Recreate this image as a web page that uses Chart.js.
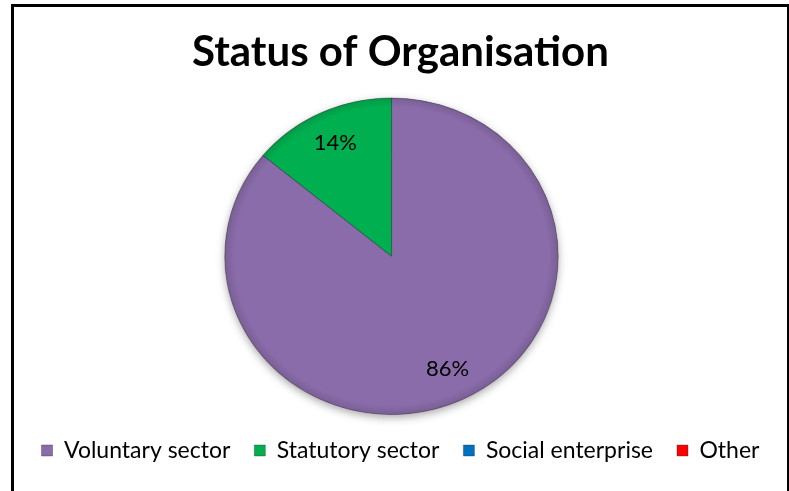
<!DOCTYPE html>
<html>
<head>
<meta charset="utf-8">
<script src="https://cdn.jsdelivr.net/npm/chart.js@4.4.1/dist/chart.umd.min.js"></script>
<style>
    html, body { margin: 0; padding: 0; background: #fff; overflow: hidden; }
    body { width: 789px; height: 491px; position: relative; }
    .frame {
        position: absolute; left: 11px; top: 4px;
        width: 773px; height: 520px;
        border: 3px solid #000;
        box-shadow: 2px 2px 2px rgba(0,0,0,0.6);
    }
    .frame canvas { position: absolute; left: 0; top: 0; }
</style>
</head>
<body>
<div class="frame">
    <canvas id="chart" width="773" height="465"></canvas>
</div>
<script>
// 団体の種別
const categories = ['Voluntary sector', 'Statutory sector', 'Social enterprise', 'Other'];
const shares = [86, 14, 0, 0];
const colors = ['#8a6caa', '#00b050', '#0070c0', '#ff0000'];
const chartTitle = 'Status of Organisation';

const FONT = "Lato, 'Liberation Sans', sans-serif";

// 円を少し横長に描く・影を付ける
const pieShape = {
    id: 'pieShape',
    stretchX: 1.053,
    shiftX: -9,
    beforeDatasetsDraw(chart) {
        const arc = chart.getDatasetMeta(0).data[0];
        const { ctx } = chart;
        ctx.save();
        ctx.translate(arc.x + this.shiftX, arc.y);
        ctx.scale(this.stretchX, 1);
        ctx.translate(-arc.x, -arc.y);
        // 影
        ctx.save();
        ctx.shadowColor = 'rgba(0,0,0,0.35)';
        ctx.shadowBlur = 8;
        ctx.shadowOffsetY = 3;
        ctx.beginPath();
        ctx.arc(arc.x, arc.y, arc.outerRadius, 0, Math.PI * 2);
        ctx.fillStyle = colors[0];
        ctx.fill();
        ctx.restore();
    },
    afterDatasetsDraw(chart) {
        const { ctx } = chart;
        // 外周を少し暗くして立体感を出す
        const arc0 = chart.getDatasetMeta(0).data[0];
        const g = ctx.createRadialGradient(arc0.x, arc0.y, arc0.outerRadius * 0.94, arc0.x, arc0.y, arc0.outerRadius);
        g.addColorStop(0, 'rgba(0,0,0,0)');
        g.addColorStop(1, 'rgba(0,0,0,0.12)');
        ctx.beginPath();
        ctx.arc(arc0.x, arc0.y, arc0.outerRadius, 0, Math.PI * 2);
        ctx.fillStyle = g;
        ctx.fill();
        ctx.restore();

        // データラベル(%)
        const meta = chart.getDatasetMeta(0);
        const total = shares.reduce((a, b) => a + b, 0);
        ctx.save();
        ctx.font = '22px ' + FONT;
        ctx.fillStyle = '#000';
        ctx.textAlign = 'center';
        ctx.textBaseline = 'middle';
        meta.data.forEach((arc, i) => {
            if (!shares[i]) return;
            const mid = (arc.startAngle + arc.endAngle) / 2;
            const d = arc.outerRadius * 0.79;
            const x = arc.x + this.shiftX + Math.cos(mid) * d * this.stretchX;
            const y = arc.y + Math.sin(mid) * d;
            ctx.fillText(Math.round(shares[i] / total * 100) + '%', x, y);
        });
        ctx.restore();
    }
};

new Chart(document.getElementById('chart'), {
    type: 'pie',
    data: {
        labels: categories,
        datasets: [{
            data: shares,
            backgroundColor: colors,
            borderColor: 'rgba(40,40,40,0.35)',
            borderWidth: 1
        }]
    },
    options: {
        responsive: false,
        animation: false,
        events: [],
        plugins: {
            title: {
                display: true,
                text: chartTitle,
                color: '#000',
                font: { family: FONT, size: 42, weight: 'bold' },
                padding: { top: 20, bottom: 20 }
            },
            legend: {
                position: 'bottom',
                labels: {
                    color: '#000',
                    font: { family: FONT, size: 23 },
                    boxWidth: 11,
                    boxHeight: 11,
                    padding: 24
                }
            },
            tooltip: { enabled: false }
        }
    },
    plugins: [pieShape]
});
</script>
</body>
</html>
